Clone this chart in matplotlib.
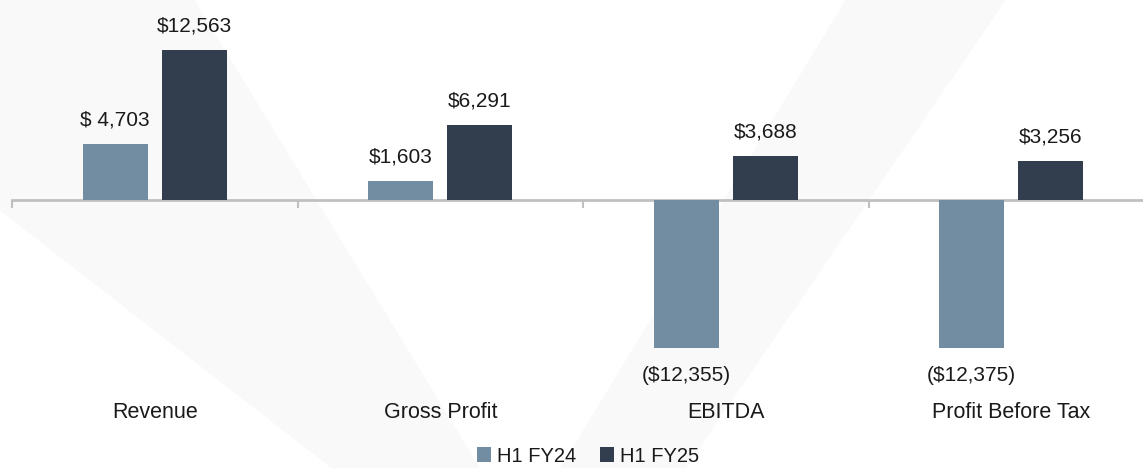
"""
H1 FY24 vs H1 FY25 key financials (clustered bars with a zero line).
"""

import matplotlib.pyplot as plt
from matplotlib.patches import Polygon
import matplotlib.transforms as mtransforms
import numpy as np

plt.rcParams["font.family"] = ["Liberation Sans", "DejaVu Sans"]

# Data
CATEGORIES = ["Revenue", "Gross Profit", "EBITDA", "Profit Before Tax"]
FY24 = [4703, 1603, -12355, -12375]
FY25 = [12563, 6291, 3688, 3256]
FY24_LABELS = ["$ 4,703", "$1,603", "($12,355)", "($12,375)"]
FY25_LABELS = ["$12,563", "$6,291", "$3,688", "$3,256"]
SERIES = ["H1 FY24", "H1 FY25"]

COL_24 = "#728ca1"
COL_25 = "#323d4e"
AXIS_GREY = "#c0c0c0"
TEXT = "#1a1a1a"


def add_watermark(fig):
    """Faint chevron shapes in the background (figure coords, y up)."""
    shapes = [
        [(0.0, 1.0), (0.17, 1.0), (0.42, 0.0), (0.29, 0.0), (0.0, 0.55)],
        [(0.74, 1.0), (0.88, 1.0), (0.60, 0.0), (0.49, 0.0)],
    ]
    for pts in shapes:
        fig.patches.append(
            Polygon(pts, closed=True, transform=fig.transFigure,
                    facecolor="#f9f9f9", edgecolor="none", zorder=-5)
        )


def main():
    fig = plt.figure(figsize=(11.43, 4.68), dpi=100)
    fig.patch.set_facecolor("white")
    add_watermark(fig)

    W, H = 1143.0, 468.0
    ax = fig.add_axes([12 / W, 68 / H, 1142 / W, 400 / H])
    ax.patch.set_alpha(0)

    x = np.arange(len(CATEGORIES))
    width = 0.228
    gap = 0.05
    off = (width + gap) / 2
    b24 = ax.bar(x - off, FY24, width, color=COL_24, label=SERIES[0], zorder=3)
    b25 = ax.bar(x + off, FY25, width, color=COL_25, label=SERIES[1], zorder=3)

    scale = 150 / 12563  # px per unit
    lim = 200 / scale
    ax.set_ylim(-lim, lim)
    ax.set_xlim(-0.5, len(CATEGORIES) - 0.5)

    # value labels
    for bars, labels in ((b24, FY24_LABELS), (b25, FY25_LABELS)):
        for rect, lab in zip(bars, labels):
            h = rect.get_height()
            cx = rect.get_x() + rect.get_width() / 2
            dy = 17.3 if h >= 0 else -20.2
            ax.annotate(lab, (cx, h), xytext=(0, dy), textcoords="offset points",
                        ha="center", va="center", fontsize=15, color=TEXT)

    # category labels
    trans = mtransforms.blended_transform_factory(ax.transData, ax.transAxes)
    for xi, cat in zip(x, CATEGORIES):
        ax.text(xi, -0.032, cat, transform=trans, ha="center", va="center",
                fontsize=15.5, color=TEXT)

    # axes styling
    for side in ("left", "right", "top"):
        ax.spines[side].set_visible(False)
    ax.spines["bottom"].set_position(("data", 0))
    ax.spines["bottom"].set_color(AXIS_GREY)
    ax.spines["bottom"].set_linewidth(2)
    ax.set_xticks(np.arange(-0.5, len(CATEGORIES), 1.0))
    ax.set_xticklabels([])
    ax.tick_params(axis="x", direction="out", length=6, width=1.5, color=AXIS_GREY)
    ax.set_yticks([])

    fig.legend(handles=[b24, b25], labels=SERIES, loc="center",
               bbox_to_anchor=(588 / W, 1 - 456 / H), ncol=2, frameon=False,
               fontsize=14.5, handlelength=0.7, handleheight=0.7,
               handletextpad=0.3, columnspacing=1.2, labelcolor=TEXT,
               borderpad=0.1)

    fig.savefig("out.png", dpi=100)
    plt.close(fig)


if __name__ == "__main__":
    main()
